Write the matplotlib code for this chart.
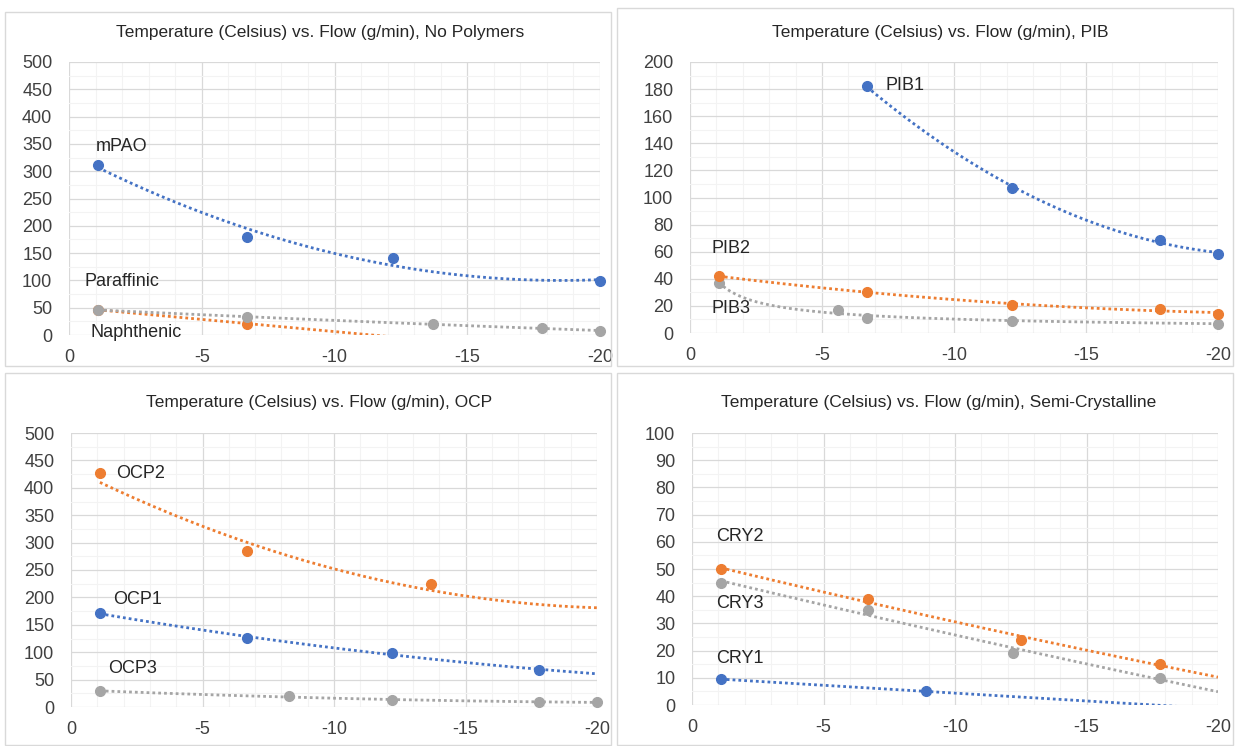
import numpy as np
import matplotlib
matplotlib.use("Agg")
import matplotlib.pyplot as plt
from matplotlib.patches import Rectangle

plt.rcParams['font.family'] = ['Liberation Sans', 'DejaVu Sans']

BLUE = '#4472c4'
ORANGE = '#ed7d31'
GRAY = '#a5a5a5'

# ---- data (temperature in Celsius, flow in g/min) ----
# No Polymers
mpao_x = [-1.1, -6.7, -12.2, -20.0]
mpao_y = [312, 179, 141, 98]
paraffinic_x = [-1.1, -6.7, -13.7, -17.8, -20.0]
paraffinic_y = [46, 33, 20, 12, 8]
naphthenic_x = [-1.1, -6.7]
naphthenic_y = [46, 21]

# PIB
pib1_x = [-6.7, -12.2, -17.8, -20.0]
pib1_y = [182, 107, 69, 58]
pib2_x = [-1.1, -6.7, -12.2, -17.8, -20.0]
pib2_y = [42, 30, 21, 18, 14]
pib3_x = [-1.1, -5.6, -6.7, -12.2, -20.0]
pib3_y = [37, 17, 11, 9, 7]

# OCP
ocp1_x = [-1.1, -6.7, -12.2, -17.8]
ocp1_y = [171, 126, 98, 68]
ocp2_x = [-1.1, -6.7, -13.7]
ocp2_y = [427, 285, 224]
ocp2_trend_x = [-1.1, -6.7, -13.7, -20.0]   # trendline
ocp2_trend_y = [410, 300, 213, 181]
ocp3_x = [-1.1, -8.3, -12.2, -17.8, -20.0]
ocp3_y = [29, 20, 12, 9, 9]

# Semi-Crystalline
cry1_x = [-1.1, -8.9]
cry1_y = [9.5, 5]
cry2_x = [-1.1, -6.7, -12.5, -17.8]
cry2_y = [50, 39, 24, 15]
cry3_x = [-1.1, -6.7, -12.2, -17.8]
cry3_y = [45, 35, 19, 10]

titles = ['Temperature (Celsius) vs. Flow (g/min), No Polymers',
          'Temperature (Celsius) vs. Flow (g/min), PIB',
          'Temperature (Celsius) vs. Flow (g/min), OCP',
          'Temperature (Celsius) vs. Flow (g/min), Semi-Crystalline']
y_max = [500, 200, 500, 100]
y_step = [50, 20, 50, 10]
x_ticks = [0, -5, -10, -15, -20]

W, H = 1235, 746
fig = plt.figure(figsize=(W / 100, H / 100), dpi=100)


def fx(px):
    return px / W


def fy(py):
    return 1 - py / H


# chart area frames
for (x0, y0, x1, y1) in [(5, 12, 611, 366), (617, 8, 1233, 366),
                         (5, 373, 611, 745), (617, 373, 1233, 745)]:
    fig.patches.append(Rectangle((fx(x0), fy(y1)), fx(x1 - x0), (y1 - y0) / H,
                                 transform=fig.transFigure, fill=False,
                                 edgecolor='#d9d9d9', lw=1.0))

# plot areas in pixels (left, top, right, bottom)
areas = [(69, 62, 600, 335), (690, 62, 1218, 333),
         (71, 433, 597, 707), (692, 433, 1218, 705)]
title_pos = [(320, 33), (940, 33), (319, 403), (939, 403)]

axes = []
for i, (l, t, r, b) in enumerate(areas):
    ax = fig.add_axes([fx(l), fy(b), fx(r - l), (b - t) / H])
    ax.set_xlim(0, -20)
    ax.set_ylim(0, y_max[i])
    ax.set_xticks(x_ticks)
    ax.set_xticklabels([str(v) for v in x_ticks])
    ax.set_yticks(np.arange(0, y_max[i] + 1, y_step[i]))
    ax.set_xticks(np.arange(0, -21, -1), minor=True)
    ax.set_yticks(np.arange(0, y_max[i] + 1, y_step[i] / 2), minor=True)
    ax.grid(which='major', color='#d9d9d9', lw=0.9)
    ax.grid(which='minor', color='#f3f3f3', lw=0.8)
    ax.set_axisbelow(True)
    for s in ax.spines.values():
        s.set_visible(False)
    ax.tick_params(which='both', length=0, labelsize=13, labelcolor='#404040')
    ax.tick_params(axis='y', pad=12)
    ax.tick_params(axis='x', pad=10)
    fig.text(fx(title_pos[i][0]), fy(title_pos[i][1]), titles[i],
             ha='center', va='center', fontsize=12.5, color='#262626')
    axes.append(ax)


def series(ax, x, y, color, deg=2, kind='poly', tx=None, ty=None):
    x = np.array(x, float)
    y = np.array(y, float)
    xs = np.linspace(x.max(), -20, 200)
    if kind == 'poly':
        c = np.polyfit(x, y, deg)
        ys = np.polyval(c, xs)
    elif kind == 'power':
        c = np.polyfit(np.log(-x), np.log(y), 1)
        ys = np.exp(np.polyval(c, np.log(-xs)))
    else:
        c = np.polyfit(tx, ty, 2)
        ys = np.polyval(c, xs)
    ax.plot(xs, ys, color=color, lw=2.0, ls=(0, (1, 1.1)), zorder=2)
    ax.plot(x, y, 'o', color=color, ms=7, zorder=3, clip_on=False)


ax = axes[0]
series(ax, naphthenic_x, naphthenic_y, ORANGE, deg=1)
series(ax, paraffinic_x, paraffinic_y, GRAY)
series(ax, mpao_x, mpao_y, BLUE)
ax.text(-1.0, 345, 'mPAO', fontsize=13, va='center', color='#262626')
ax.text(-0.6, 98, 'Paraffinic', fontsize=13, va='center', color='#262626')
ax.text(-0.8, 5, 'Naphthenic', fontsize=13, va='center', color='#262626')

ax = axes[1]
series(ax, pib3_x, pib3_y, GRAY, kind='power')
series(ax, pib2_x, pib2_y, ORANGE)
series(ax, pib1_x, pib1_y, BLUE)
ax.text(-7.4, 183, 'PIB1', fontsize=13, va='center', color='#262626')
ax.text(-0.8, 62, 'PIB2', fontsize=13, va='center', color='#262626')
ax.text(-0.8, 18, 'PIB3', fontsize=13, va='center', color='#262626')

ax = axes[2]
series(ax, ocp3_x, ocp3_y, GRAY)
series(ax, ocp1_x, ocp1_y, BLUE)
series(ax, ocp2_x, ocp2_y, ORANGE, kind='read', tx=ocp2_trend_x, ty=ocp2_trend_y)
ax.text(-1.7, 427, 'OCP2', fontsize=13, va='center', color='#262626')
ax.text(-1.6, 196, 'OCP1', fontsize=13, va='center', color='#262626')
ax.text(-1.4, 71, 'OCP3', fontsize=13, va='center', color='#262626')

ax = axes[3]
series(ax, cry1_x, cry1_y, BLUE, deg=1)
series(ax, cry3_x, cry3_y, GRAY)
series(ax, cry2_x, cry2_y, ORANGE)
ax.text(-0.9, 62, 'CRY2', fontsize=13, va='center', color='#262626')
ax.text(-0.9, 37.5, 'CRY3', fontsize=13, va='center', color='#262626')
ax.text(-0.9, 17, 'CRY1', fontsize=13, va='center', color='#262626')

fig.savefig('out.png', dpi=100, facecolor='white')
